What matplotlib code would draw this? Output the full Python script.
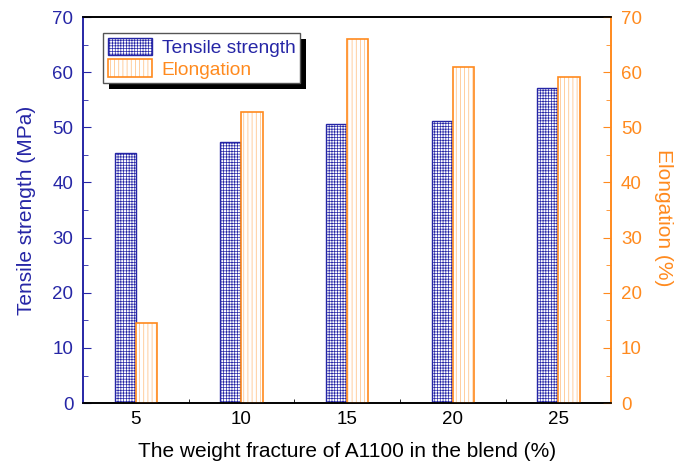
import matplotlib
matplotlib.use('Agg')
import matplotlib.pyplot as plt
from matplotlib.patches import Rectangle
from matplotlib.transforms import IdentityTransform
from matplotlib.ticker import MultipleLocator, FixedLocator
from matplotlib.legend_handler import HandlerTuple

plt.rcParams['font.family'] = ['Liberation Sans', 'DejaVu Sans']
plt.rcParams['hatch.linewidth'] = 0.5

# Data
fractions = [5, 10, 15, 20, 25]
tensile = [45.3, 47.3, 50.6, 51.1, 57.1]
elongation = [14.6, 52.8, 66.0, 61.0, 59.2]
minor_x = [7.5, 12.5, 17.5, 22.5]

BLUE = '#2626a6'
ORANGE = '#ff8a1e'
LIGHT_ORANGE = '#ffbb78'

fig = plt.figure(figsize=(6.86, 4.66), dpi=100)
ax = fig.add_axes([0.121, 0.135, 0.770, 0.8285])
ax2 = ax.twinx()

b1 = ax.bar(fractions, tensile, width=-1.0, align='edge', facecolor='white',
            edgecolor=BLUE, hatch='++++++', linewidth=1.0)
b2h = ax2.bar(fractions, elongation, width=1.0, align='edge', facecolor='white',
              edgecolor=LIGHT_ORANGE, hatch='||||', linewidth=0)
b2e = ax2.bar(fractions, elongation, width=1.0, align='edge', fill=False,
              edgecolor=ORANGE, linewidth=1.2)

for a in (ax, ax2):
    a.set_xlim(2.5, 27.5)
    a.set_ylim(0, 70)
    a.spines['left'].set_color(BLUE)
    a.spines['right'].set_color(ORANGE)
    a.spines['top'].set_color('black')
    a.spines['bottom'].set_color('black')
    for s in a.spines.values():
        s.set_linewidth(1.2)

ax.set_xticks(fractions)
ax.xaxis.set_minor_locator(FixedLocator(minor_x))
ax.tick_params(axis='x', which='both', direction='in', top=False, labelsize=13.5, pad=6, colors='black')
ax.tick_params(axis='x', which='major', length=5)
ax.tick_params(axis='x', which='minor', length=3)

ax.yaxis.set_major_locator(MultipleLocator(10))
ax.yaxis.set_minor_locator(MultipleLocator(5))
ax.tick_params(axis='y', which='both', direction='in', colors=BLUE, labelsize=13.5, pad=7)
ax.tick_params(axis='y', which='major', length=6)
ax.tick_params(axis='y', which='minor', length=3.5)

ax2.yaxis.set_major_locator(MultipleLocator(10))
ax2.yaxis.set_minor_locator(MultipleLocator(5))
ax2.tick_params(axis='y', which='both', direction='in', colors=ORANGE, labelsize=13.5, pad=7)
ax2.tick_params(axis='y', which='major', length=6)
ax2.tick_params(axis='y', which='minor', length=3.5)

ax.set_xlabel('The weight fracture of A1100 in the blend (%)', fontsize=15, labelpad=10)
ax.set_ylabel('Tensile strength (MPa)', fontsize=15, color=BLUE, labelpad=12)
ax2.set_ylabel('Elongation (%)', fontsize=15, color=ORANGE, rotation=270)
ax2.yaxis.set_label_coords(1.117, 0.48)

leg = ax2.legend([b1[0], (b2h[0], b2e[0])], ['Tensile strength', 'Elongation'],
                 handler_map={tuple: HandlerTuple(ndivide=1)},
                 loc='upper left', bbox_to_anchor=(0.038, 0.958), borderaxespad=0,
                 fontsize=13.8, handlelength=2.3, handleheight=1.0, handletextpad=0.5,
                 borderpad=0.25, labelspacing=0.12, fancybox=False, framealpha=1,
                 edgecolor='#555555', labelcolor=[BLUE, ORANGE])
leg.get_frame().set_linewidth(1.0)
leg.set_zorder(6)

fig.canvas.draw()
bb = leg.get_window_extent()
shadow = Rectangle((bb.x0 + 6, bb.y0 - 6), bb.width, bb.height, transform=IdentityTransform(),
                   facecolor='black', edgecolor='none', zorder=5.5, clip_on=False)
ax2.add_artist(shadow)

fig.savefig('out.png', dpi=100)
